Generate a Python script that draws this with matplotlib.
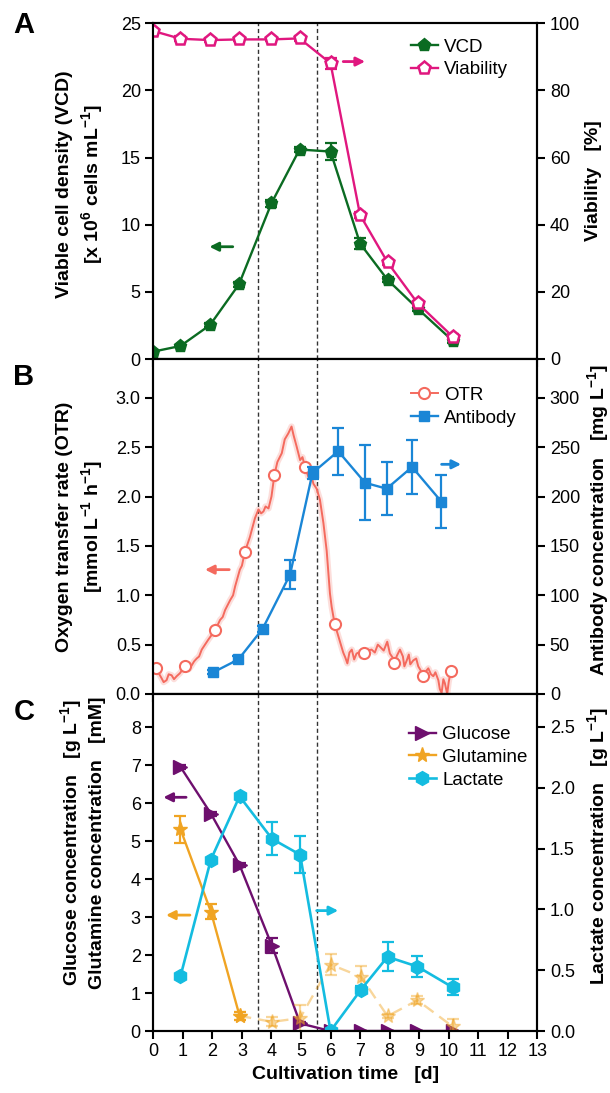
import numpy as np
import matplotlib.pyplot as plt

plt.rcParams['font.family'] = ['Liberation Sans', 'DejaVu Sans']
plt.rcParams['mathtext.fontset'] = 'custom'
plt.rcParams['mathtext.rm'] = 'Liberation Sans'
plt.rcParams['mathtext.bf'] = 'Liberation Sans:bold'

# ---- Panel A: cell growth ----
t_cells = [0, 0.92, 1.92, 2.9, 4.0, 4.95, 6.0, 7.0, 7.93, 8.95, 10.13]
vcd = [0.55, 0.97, 2.53, 5.56, 11.6, 15.6, 15.45, 8.6, 5.9, 3.75, 1.37]
vcd_err = [0.1, 0.1, 0.15, 0.2, 0.25, 0.2, 0.6, 0.4, 0.2, 0.2, 0.2]
viab = [97.7, 95.4, 95.0, 95.2, 95.2, 95.5, 88.1, 42.9, 28.8, 16.6, 6.7]
viab_err = [0.5, 0.8, 0.6, 0.5, 0.5, 0.8, 1.6, 0.8, 0.8, 0.8, 0.8]

# ---- Panel B: OTR and antibody ----
otr_t = [0.09, 0.28, 0.35, 0.45, 0.52, 0.62, 0.7, 0.79, 0.9, 1.07, 1.2, 1.3,
         1.38, 1.47, 1.55, 1.64, 1.86, 2.1, 2.26, 2.35, 2.43, 2.6, 2.7, 2.77,
         2.93, 3.0, 3.1, 3.27, 3.44, 3.56, 3.65, 3.73, 3.8, 3.9, 4.0, 4.1,
         4.2, 4.35, 4.45, 4.57, 4.68, 4.75, 4.85, 4.97, 5.05, 5.14, 5.25,
         5.35, 5.42, 5.53, 5.64, 5.76, 5.87, 5.98, 6.04, 6.14, 6.3, 6.43,
         6.5, 6.57, 6.64, 6.72, 6.8, 6.88, 6.95, 7.05, 7.14, 7.25, 7.39,
         7.5, 7.6, 7.67, 7.8, 7.92, 8.01, 8.1, 8.15, 8.25, 8.35, 8.45, 8.5,
         8.58, 8.65, 8.7, 8.8, 8.9, 8.97, 9.05, 9.12, 9.2, 9.31, 9.4, 9.48,
         9.55, 9.65, 9.7, 9.76, 9.82, 9.87, 9.95, 10.0, 10.07]
otr_v = [0.26, 0.16, 0.12, 0.14, 0.2, 0.19, 0.15, 0.18, 0.21, 0.28, 0.25, 0.29,
         0.33, 0.36, 0.38, 0.45, 0.55, 0.65, 0.75, 0.78, 0.85, 0.95, 1.0, 1.09,
         1.26, 1.3, 1.44, 1.59, 1.78, 1.87, 1.83, 1.85, 1.9, 1.88, 2.0, 2.22,
         2.35, 2.44, 2.58, 2.64, 2.71, 2.62, 2.51, 2.37, 2.4, 2.3, 2.2,
         2.22, 2.13, 2.08, 1.97, 1.73, 1.45, 1.02, 0.88, 0.71, 0.55, 0.42,
         0.37, 0.31, 0.42, 0.45, 0.35, 0.41, 0.42, 0.38, 0.42, 0.44, 0.45,
         0.42, 0.5, 0.48, 0.44, 0.53, 0.41, 0.37, 0.31, 0.39, 0.45, 0.38, 0.28,
         0.34, 0.4, 0.3, 0.34, 0.36, 0.28, 0.24, 0.18, 0.22, 0.26, 0.2, 0.18,
         0.22, 0.14, 0.05, 0.01, 0.15, 0.11, 0.0, 0.12, 0.23]
otr_circles = [0.09, 1.07, 2.1, 3.1, 4.1, 5.14, 6.14, 7.14, 8.15, 9.12, 10.07]

t_ab = [2.03, 2.88, 3.7, 4.63, 5.39, 6.26, 7.17, 7.9, 8.76, 9.75]
antibody = [22, 35, 66, 121, 224, 246, 214, 208, 230, 195]
antibody_err = [2, 3, 3, 15, 6, 24, 38, 27, 27, 27]

# ---- Panel C: metabolites ----
t_met = [0.92, 1.95, 2.92, 4.02, 4.97, 6.0, 7.03, 7.93, 8.94, 10.13]
glucose = [6.95, 5.72, 4.37, 2.24, 0.2, 0.0, 0.0, 0.0, 0.0, 0.0]
glucose_err = [0.05, 0.05, 0.05, 0.2, 0.05, 0, 0, 0, 0, 0]
glutamine = [5.31, 3.14, 0.4, 0.24, 0.34, 1.75, 1.43, 0.39, 0.81, 0.12]
glutamine_err = [0.36, 0.2, 0.1, 0.12, 0.35, 0.28, 0.28, 0.05, 0.1, 0.2]
lactate = [0.45, 1.41, 1.93, 1.58, 1.45, 0.0, 0.34, 0.61, 0.53, 0.36]
lactate_err = [0.0, 0.0, 0.0, 0.135, 0.15, 0.0, 0.03, 0.12, 0.09, 0.065]

c_vcd = '#0b6b22'
c_via = '#e0177f'
c_otr = '#f46a5e'
c_ab = '#1a86d6'
c_glc = '#6e0f6e'
c_gln = '#f0a423'
c_lac = '#14bce0'

W, H = 610, 1093
fig = plt.figure(figsize=(W / 100, H / 100), dpi=100)
left = 153.3 / W
width = (537.3 - 153.3) / W


def make_axes(top_px, bottom_px):
    ax = fig.add_axes([left, 1 - bottom_px / H, width, (bottom_px - top_px) / H])
    ax2 = ax.twinx()
    for a in (ax, ax2):
        for s in a.spines.values():
            s.set_linewidth(1.5)
        a.tick_params(direction='out', length=5.5, width=1.5, labelsize=13)
    ax.set_xlim(0, 13)
    ax.set_xticks(range(0, 14))
    return ax, ax2


def arrow(ax, tail, head, color):
    ax.annotate('', xy=head, xytext=tail,
                arrowprops=dict(arrowstyle='-|>', color=color, lw=2,
                                mutation_scale=13, shrinkA=0, shrinkB=0))


lab = dict(fontsize=14, fontweight='bold')
err_kw = dict(fmt='none', capsize=4, elinewidth=1.6, capthick=1.6)
leg_kw = dict(loc='upper left', frameon=False, fontsize=13.5, handlelength=1.45,
              handletextpad=0.35, borderaxespad=0, borderpad=0, labelspacing=0.3)
LX = -0.123   # left label right edge (axes fraction)
RX = 1.125    # right label left edge

# Panel A
axA, axA2 = make_axes(23.3, 359)
axA.set_ylim(0, 25)
axA.set_yticks([0, 5, 10, 15, 20, 25])
axA2.set_ylim(0, 100)
axA2.set_yticks([0, 20, 40, 60, 80, 100])
axA.tick_params(labelbottom=False)
axA.errorbar(t_cells, vcd, yerr=vcd_err, ecolor=c_vcd, **err_kw)
axA.plot(t_cells, vcd, '-p', color=c_vcd, ms=9.5, lw=1.7, label='VCD')
axA2.errorbar(t_cells, viab, yerr=viab_err, ecolor=c_via, **err_kw)
axA2.plot(t_cells, viab, '-p', color=c_via, mfc='white', mew=1.8, ms=9.5,
          lw=1.7, label='Viability')
arrow(axA, (2.69, 8.36), (1.9, 8.36), c_vcd)
arrow(axA2, (6.43, 88.6), (7.17, 88.6), c_via)
axA.set_ylabel('Viable cell density (VCD)\n[x 10$^\\mathbf{6}$ cells mL$^{\\mathbf{-1}}$]',
               linespacing=1.35, **lab)
axA2.set_ylabel('Viability   [%]', **lab)
axA.yaxis.set_label_coords(LX, 0.52)
axA2.yaxis.set_label_coords(RX, 0.53)
h1, l1 = axA.get_legend_handles_labels()
h2, l2 = axA2.get_legend_handles_labels()
axA2.legend(h1 + h2, l1 + l2, bbox_to_anchor=(0.67, 0.955), **leg_kw)

# Panel B
axB, axB2 = make_axes(359, 694)
axB.set_ylim(0, (694 - 359) / 98.7)
axB.set_yticks(np.arange(0, 3.01, 0.5))
axB.set_yticklabels(['%.1f' % v for v in np.arange(0, 3.01, 0.5)])
axB2.set_ylim(0, (694 - 359) / 98.7 * 100)
axB2.set_yticks(range(0, 301, 50))
axB.tick_params(labelbottom=False)
axB.plot(otr_t, otr_v, '-', color=c_otr, lw=4.5, alpha=0.22)
circ_idx = [otr_t.index(t) for t in otr_circles]
axB.plot(otr_t, otr_v, '-o', color=c_otr, mfc='white', mew=1.5, ms=8,
         lw=1.4, markevery=circ_idx, label='OTR')
axB2.errorbar(t_ab, antibody, yerr=antibody_err, ecolor=c_ab, **err_kw)
axB2.plot(t_ab, antibody, '-s', color=c_ab, ms=7.5, lw=1.7, label='Antibody')
arrow(axB, (2.57, 1.26), (1.75, 1.26), c_otr)
arrow(axB2, (9.76, 232.7), (10.42, 232.7), c_ab)
axB.set_ylabel('Oxygen transfer rate (OTR)\n[mmol L$^{\\mathbf{-1}}$ h$^{\\mathbf{-1}}$]',
               linespacing=1.35, **lab)
axB2.set_ylabel('Antibody concentration   [mg L$^{\\mathbf{-1}}$]', **lab)
axB.yaxis.set_label_coords(LX, 0.5)
axB2.yaxis.set_label_coords(RX, 0.52)
h1, l1 = axB.get_legend_handles_labels()
h2, l2 = axB2.get_legend_handles_labels()
axB2.legend(h1 + h2, l1 + l2, bbox_to_anchor=(0.67, 0.917), **leg_kw)

# Panel C
axC, axC2 = make_axes(694, 1031)
ctop = (1031 - 694) / 38.0
axC.set_ylim(0, ctop)
axC.set_yticks(range(0, 9))
axC2.set_ylim(0, ctop / 3.2)
axC2.set_yticks(np.arange(0, 2.51, 0.5))
axC2.set_yticklabels(['%.1f' % v for v in np.arange(0, 2.51, 0.5)])
axC.errorbar(t_met, glucose, yerr=glucose_err, ecolor=c_glc, **err_kw)
axC.plot(t_met, glucose, '->', color=c_glc, ms=10, lw=1.7, label='Glucose')
axC.errorbar(t_met[2:], glutamine[2:], yerr=glutamine_err[2:], ecolor=c_gln,
             alpha=0.45, **err_kw)
axC.plot(t_met[2:], glutamine[2:], '--*', color=c_gln, ms=11, lw=1.7, alpha=0.45,
         dashes=(5, 3))
axC.errorbar(t_met[:3], glutamine[:3], yerr=glutamine_err[:3], ecolor=c_gln, **err_kw)
axC.plot(t_met[:3], glutamine[:3], '-*', color=c_gln, ms=11, lw=1.7,
         label='Glutamine')
axC2.errorbar(t_met, lactate, yerr=lactate_err, ecolor=c_lac, **err_kw)
axC2.plot(t_met, lactate, '-h', color=c_lac, ms=10, lw=1.9, label='Lactate')
arrow(axC, (1.11, 6.15), (0.34, 6.15), c_glc)
arrow(axC, (1.24, 3.05), (0.43, 3.05), c_gln)
arrow(axC2, (5.53, 0.99), (6.26, 0.99), c_lac)
axC.set_ylabel('Glucose concentration   [g L$^{\\mathbf{-1}}$]\n'
               'Glutamine concentration   [mM]', linespacing=1.35, **lab)
axC2.set_ylabel('Lactate concentration   [g L$^{\\mathbf{-1}}$]', **lab)
axC.yaxis.set_label_coords(LX, 0.56)
axC2.yaxis.set_label_coords(RX, 0.55)
axC.set_xlabel('Cultivation time   [d]', **lab)
h1, l1 = axC.get_legend_handles_labels()
h2, l2 = axC2.get_legend_handles_labels()
axC2.legend(h1 + h2, l1 + l2, bbox_to_anchor=(0.665, 0.905), **leg_kw)

# vertical phase markers
for ax in (axA, axB, axC):
    for xv in (3.53, 5.55):
        ax.axvline(xv, color='#333333', lw=1, ls=(0, (3, 2)), zorder=0)

for letter, y in (('A', 25), ('B', 377), ('C', 712)):
    fig.text(24 / W, 1 - y / H, letter, fontsize=21, fontweight='bold',
             ha='center', va='center')

fig.savefig('out.png', dpi=100)
